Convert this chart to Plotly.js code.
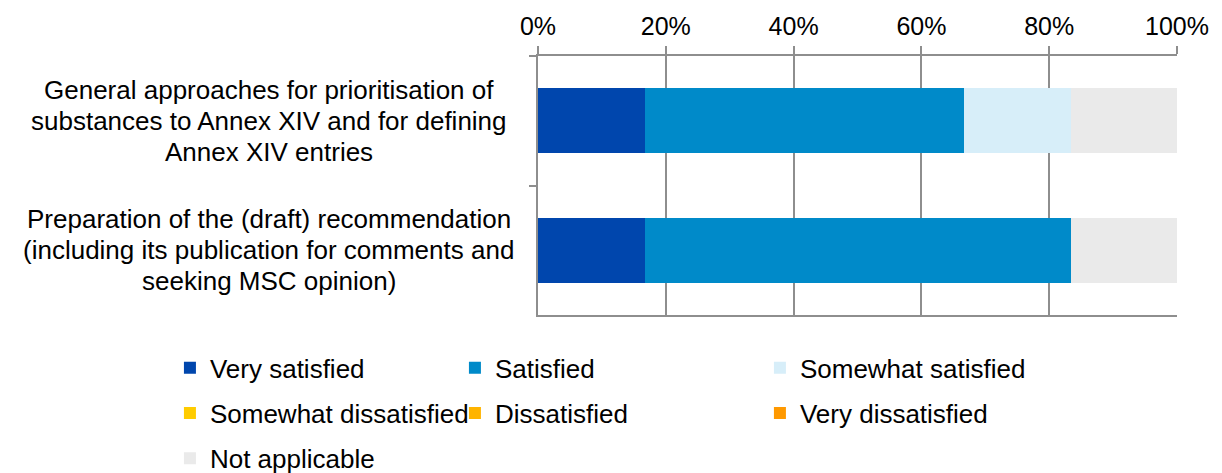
<!DOCTYPE html>
<html>
<head>
<meta charset="utf-8">
<script src="https://cdn.plot.ly/plotly-3.0.1.min.js"></script>
<style>html,body{margin:0;padding:0;background:#fff;}#chart{width:1222px;height:473px;}</style>
</head>
<body>
<div id="chart"></div>
<script>
const categories = [
  "General approaches for prioritisation of<br>substances to Annex XIV and for defining<br>Annex XIV entries",
  "Preparation of the (draft) recommendation<br>(including its publication for comments and<br>seeking MSC opinion)"
];
const categoryKeys = ["General approaches", "Preparation"];
const seriesNames = ["Very satisfied", "Satisfied", "Somewhat satisfied", "Somewhat dissatisfied", "Dissatisfied", "Very dissatisfied", "Not applicable"];
const verySatisfied = [16.67, 16.67];
const satisfied = [50.0, 66.67];
const somewhatSatisfied = [16.67, 0];
const somewhatDissatisfied = [0, 0];
const dissatisfied = [0, 0];
const veryDissatisfied = [0, 0];
const notApplicable = [16.67, 16.67];
const xTicks = [0, 20, 40, 60, 80, 100];

const seriesValues = [verySatisfied, satisfied, somewhatSatisfied, somewhatDissatisfied, dissatisfied, veryDissatisfied, notApplicable];
const colors = ["#0046AD", "#008AC9", "#D7EEF9", "#FFCC00", "#FFB400", "#FF9900", "#EAEAEA"];
const legendOf = ["legend", "legend2", "legend3", "legend", "legend2", "legend3", "legend"];

const FONT = "Liberation Sans, Arial, sans-serif";
const FS = 26;
const GRID = "#8e8e8e";
const LINE_GAP = 31;

const traces = seriesNames.map((name, i) => ({
  type: "bar",
  orientation: "h",
  name: name,
  x: seriesValues[i],
  y: categoryKeys,
  marker: {color: colors[i], line: {width: 0}},
  legend: legendOf[i],
  legendgroup: "g" + i,
  hoverinfo: "name+x"
}));

const labelAnnotations = [];
categoryKeys.forEach((k, i) => {
  const lines = categories[i].split("<br>");
  const mid = (lines.length - 1) / 2;
  lines.forEach((ln, j) => {
    labelAnnotations.push({
      xref: "paper", yref: "y",
      x: -0.421, y: k,
      xanchor: "center", yanchor: "middle",
      yshift: (mid - j) * LINE_GAP,
      text: ln,
      showarrow: false,
      font: {family: FONT, size: FS, color: "#000"}
    });
  });
});

const legendBase = {
  orientation: "v",
  xanchor: "left",
  yanchor: "top",
  yref: "container",
  y: 0.2722,
  font: {family: FONT, size: FS, color: "#000"},
  bgcolor: "rgba(0,0,0,0)",
  borderwidth: 0,
  tracegroupgap: 8.5,
  itemclick: false,
  itemdoubleclick: false
};

const layout = {
  width: 1222,
  height: 473,
  margin: {l: 538, r: 45, t: 56, b: 158, pad: 0},
  paper_bgcolor: "#fff",
  plot_bgcolor: "#fff",
  barmode: "stack",
  bargap: 0.5,
  font: {family: FONT, size: FS, color: "#000"},
  xaxis: {
    side: "top",
    range: [0, 100],
    tickvals: xTicks,
    ticktext: xTicks.map(v => v + "%"),
    showgrid: true,
    gridcolor: GRID,
    gridwidth: 2,
    showline: true,
    mirror: true,
    linecolor: GRID,
    linewidth: 2,
    ticks: "outside",
    ticklen: 8,
    tickwidth: 2,
    tickcolor: GRID,
    ticklabelstandoff: 1,
    zeroline: false,
    tickfont: {family: FONT, size: 25, color: "#000"},
    fixedrange: true
  },
  yaxis: {
    type: "category",
    categoryorder: "array",
    categoryarray: categoryKeys,
    autorange: "reversed",
    tickson: "boundaries",
    ticks: "outside",
    ticklen: 7,
    tickwidth: 2,
    tickcolor: GRID,
    showline: true,
    linecolor: GRID,
    linewidth: 2,
    showgrid: false,
    showticklabels: false,
    zeroline: false,
    fixedrange: true
  },
  annotations: labelAnnotations,
  legend: Object.assign({}, legendBase, {x: -0.5760}),
  legend2: Object.assign({}, legendBase, {x: -0.1300}),
  legend3: Object.assign({}, legendBase, {x: 0.3473}),
  showlegend: true
};

Plotly.newPlot("chart", traces, layout, {displayModeBar: false});
</script>
</body>
</html>
